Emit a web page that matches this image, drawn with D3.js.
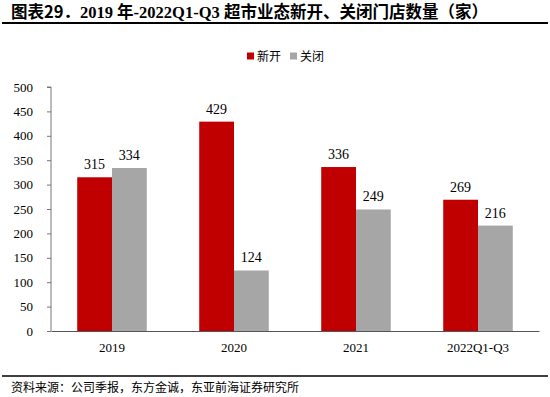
<!DOCTYPE html>
<html>
<head>
<meta charset="utf-8">
<script src="https://cdn.jsdelivr.net/npm/d3@7"></script>
<style>
  body { margin: 0; background: #fff; }
  svg { display: block; }
</style>
</head>
<body>
<svg id="chart"></svg>
<script>
const categories = ['2019', '2020', '2021', '2022Q1-Q3'];
const seriesNames = ['新开', '关闭'];
const opened = [315, 429, 336, 269];
const closed = [334, 124, 249, 216];
const yTicks = [0, 50, 100, 150, 200, 250, 300, 350, 400, 450, 500];
const colors = ['#C00000', '#A6A6A6'];

const width = 550, height = 397;
const marginLeft = 51, marginRight = 11, marginTop = 87, plotBottom = 331;
const serif = '"Liberation Serif", "Times New Roman", serif';
const cjk = '"Noto Sans CJK SC", sans-serif';

const svg = d3.select('#chart').attr('width', width).attr('height', height);

// 标题
const title = svg.append('text').attr('x', 11).attr('y', 18).attr('font-size', 16.5).attr('font-weight', 'bold');
title.append('tspan').attr('font-family', cjk).text('图表29．');
title.append('tspan').attr('font-family', serif).text('2019 ');
title.append('tspan').attr('font-family', cjk).text('年');
title.append('tspan').attr('font-family', serif).text('-2022Q1-Q3 ');
title.append('tspan').attr('font-family', cjk).text('超市业态新开、关闭门店数量（家）');
svg.append('line').attr('x1', 2).attr('x2', 548).attr('y1', 23).attr('y2', 23)
  .attr('stroke', '#000').attr('stroke-width', 2);

// scales
const x = d3.scaleBand(categories, [marginLeft, width - marginRight]).paddingInner(0.43).paddingOuter(0.215);
const xSub = d3.scaleBand([0, 1], [0, x.bandwidth()]);
const y = d3.scaleLinear([0, 500], [plotBottom, marginTop]);

// y axis
svg.append('g')
  .attr('transform', `translate(${marginLeft},0)`)
  .call(d3.axisLeft(y).tickValues(yTicks).tickSize(4).tickPadding(14))
  .call((g) => g.select('.domain').attr('stroke', '#777').attr('d', `M-4,${y(500)}H0V${y(0)}`))
  .call((g) => g.selectAll('.tick line').attr('stroke', '#777'))
  .call((g) => g.selectAll('.tick text').attr('font-family', serif).attr('font-size', 13).attr('fill', '#000'));

// bars
const groups = svg.append('g').selectAll('g')
  .data(categories)
  .join('g')
  .attr('transform', (d) => `translate(${x(d)},0)`);

[opened, closed].forEach((values, si) => {
  groups.append('rect')
    .attr('x', xSub(si))
    .attr('y', (d, i) => y(values[i]))
    .attr('width', xSub.bandwidth())
    .attr('height', (d, i) => y(0) - y(values[i]))
    .attr('fill', colors[si]);
  groups.append('text')
    .attr('x', xSub(si) + xSub.bandwidth() / 2)
    .attr('y', (d, i) => y(values[i]) - 8)
    .attr('text-anchor', 'middle')
    .attr('font-family', serif)
    .attr('font-size', 14)
    .text((d, i) => values[i]);
});

// x axis
svg.append('g')
  .attr('transform', `translate(0,${plotBottom})`)
  .call(d3.axisBottom(x).tickSize(0).tickPadding(12))
  .call((g) => g.select('.domain').attr('stroke', '#555'))
  .call((g) => g.selectAll('.tick text').attr('font-family', serif).attr('font-size', 13).attr('fill', '#000'));

// legend
const legend = svg.append('g').attr('transform', 'translate(247,56)');
const legendX = [0, 43];
seriesNames.forEach((name, i) => {
  legend.append('rect').attr('x', legendX[i]).attr('y', -3.5).attr('width', 7).attr('height', 7).attr('fill', colors[i]);
  legend.append('text').attr('x', legendX[i] + 10).attr('y', 4.5)
    .attr('font-family', cjk).attr('font-size', 12).text(name);
});

// 底部来源
svg.append('line').attr('x1', 2).attr('x2', 548).attr('y1', 376).attr('y2', 376)
  .attr('stroke', '#000').attr('stroke-width', 1.5);
svg.append('text').attr('x', 11).attr('y', 392)
  .attr('font-family', cjk).attr('font-size', 12)
  .text('资料来源：公司季报，东方金诚，东亚前海证券研究所');
</script>
</body>
</html>
